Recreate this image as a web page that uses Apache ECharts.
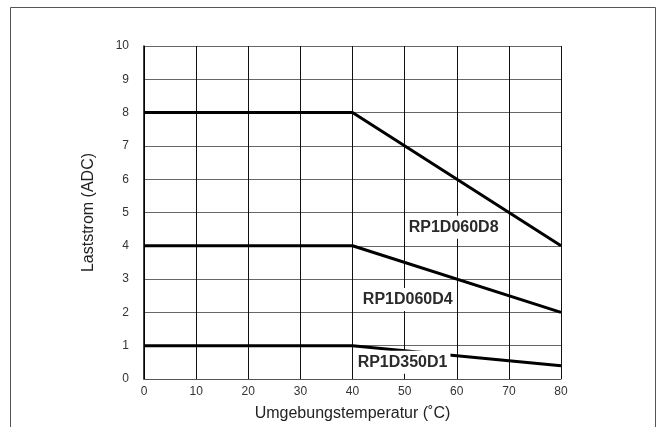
<!DOCTYPE html>
<html>
<head>
<meta charset="utf-8">
<script src="https://cdn.jsdelivr.net/npm/echarts@6/dist/echarts.min.js"></script>
<style>html,body{margin:0;padding:0;background:#fff;}#c{width:661px;height:427px;}</style>
</head>
<body>
<div id="c"></div>
<script>
var temps = [0, 40, 80];
var rp1d060d8 = [8, 8, 4];
var rp1d060d4 = [4, 4, 2];
var rp1d350d1 = [1, 1, 0.4];
var seriesNames = ['RP1D060D8', 'RP1D060D4', 'RP1D350D1'];
var labelPos = [[59.4, 4.56], [50.6, 2.39], [49.6, 0.5]];
var xTicks = [0, 10, 20, 30, 40, 50, 60, 70, 80];
var yTicks = [0, 1, 2, 3, 4, 5, 6, 7, 8, 9, 10];

function pairs(ys) { return temps.map(function (t, i) { return [t, ys[i]]; }); }
var allSeries = [rp1d060d8, rp1d060d4, rp1d350d1];

var chart = echarts.init(document.getElementById('c'));
var series = allSeries.map(function (ys, i) {
  return {
    name: seriesNames[i], type: 'line', data: pairs(ys), symbol: 'none',
    lineStyle: { color: '#000', width: 3 }, z: 3, animation: false
  };
});
series.push({
  type: 'scatter', symbolSize: 0, z: 10, animation: false, silent: true,
  itemStyle: { opacity: 1, color: '#fff' },
  data: labelPos.map(function (p, i) { return { value: p, name: seriesNames[i] }; }),
  label: {
    show: true, position: 'inside', formatter: '{b}',
    fontFamily: 'Liberation Sans, Arial, sans-serif', fontWeight: 'bold', fontSize: 16,
    color: '#2a2a2a', backgroundColor: '#fff', padding: [4, 3, 3, 3], opacity: 1
  }
});

chart.setOption({
  animation: false,
  graphic: [{
    type: 'rect', shape: { x: 10.5, y: 7.5, width: 645, height: 440 },
    style: { fill: 'none', stroke: '#555', lineWidth: 1 }, z: -1
  }],
  grid: { left: 144, right: 100, top: 46, bottom: 47 },
  xAxis: {
    type: 'value', min: 0, max: 80, interval: 10,
    name: 'Umgebungstemperatur (˚C)', nameLocation: 'middle', nameGap: 27,
    nameTextStyle: { fontFamily: 'Liberation Sans, Arial, sans-serif', fontSize: 16, color: '#222' },
    axisLine: { lineStyle: { color: '#555', width: 1 } },
    axisTick: { show: false },
    axisLabel: { margin: 7, fontFamily: 'Liberation Sans, Arial, sans-serif', fontSize: 12, color: '#333',
      formatter: function (v) { return xTicks.indexOf(v) >= 0 ? String(v) : ''; } },
    splitLine: { show: true, lineStyle: { color: '#111', width: 1 } }
  },
  yAxis: {
    type: 'value', min: 0, max: 10, interval: 1,
    name: 'Laststrom (ADC)', nameLocation: 'middle', nameGap: 47,
    nameTextStyle: { fontFamily: 'Liberation Sans, Arial, sans-serif', fontSize: 16, color: '#222' },
    axisLine: { show: true, lineStyle: { color: '#000', width: 1.5 } },
    axisTick: { show: false },
    axisLabel: { margin: 15, fontFamily: 'Liberation Sans, Arial, sans-serif', fontSize: 12, color: '#333',
      formatter: function (v) { return yTicks.indexOf(v) >= 0 ? String(v) : ''; } },
    splitLine: { show: true, lineStyle: { color: '#666', width: 1 } }
  },
  series: series
});
</script>
</body>
</html>
